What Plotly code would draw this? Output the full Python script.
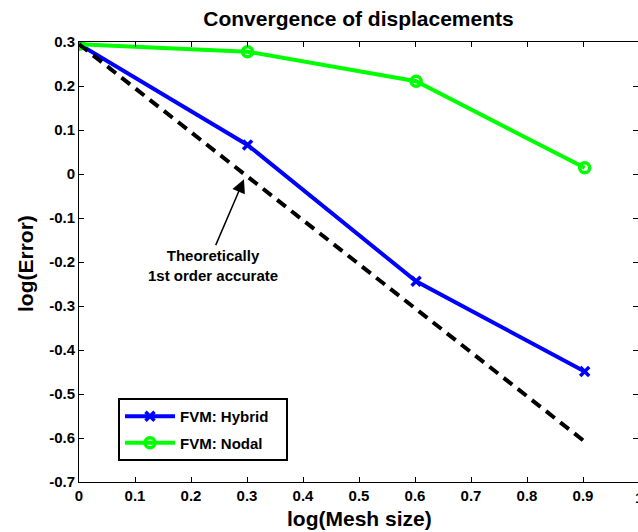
import plotly.graph_objects as go

# ---- data ----
mesh_log = [0.0, 0.301, 0.602, 0.903]
hybrid_err = [0.295, 0.066, -0.244, -0.449]
nodal_err = [0.295, 0.278, 0.211, 0.014]
theory_x = [0.0, 0.903]
theory_y = [0.295, -0.608]
series_names = ["FVM: Hybrid", "FVM: Nodal"]
x_ticks = [0, 0.1, 0.2, 0.3, 0.4, 0.5, 0.6, 0.7, 0.8, 0.9]
x_ticktext = ["0", "0.1", "0.2", "0.3", "0.4", "0.5", "0.6", "0.7", "0.8", "0.9"]
y_ticks = [0.3, 0.2, 0.1, 0.0, -0.1, -0.2, -0.3, -0.4, -0.5, -0.6, -0.7]
y_ticktext = ["0.3", "0.2", "0.1", "0", "-0.1", "-0.2", "-0.3", "-0.4", "-0.5", "-0.6", "-0.7"]

W, H = 638, 532
L, T, B = 79, 42, 50
PX_PER_X = 560.0
x_end = (W - L) / PX_PER_X  # axis right edge at window edge (x=1 just off-screen)

FONT = "Liberation Sans, Arial, sans-serif"
tickfont = dict(family=FONT, size=15, color="black", weight="bold")
PAD = "\u00a0\u00a0\u00a0"

fig = go.Figure()
fig.add_trace(go.Scatter(
    x=mesh_log, y=hybrid_err, name=series_names[0] + PAD, mode="lines+markers",
    line=dict(color="#0000FF", width=4),
    marker=dict(symbol="x-thin-open", size=9, color="#0000FF",
                line=dict(color="#0000FF", width=3.5)),
    legendgroup="a",
))
fig.add_trace(go.Scatter(
    x=mesh_log, y=nodal_err, name=series_names[1] + PAD, mode="lines+markers",
    line=dict(color="#00FF00", width=4),
    marker=dict(symbol="circle-open", size=10, color="#00FF00",
                line=dict(color="#00FF00", width=3.5)),
    legendgroup="b",
))
fig.add_trace(go.Scatter(
    x=theory_x, y=theory_y, mode="lines", showlegend=False, yaxis="y2",
    line=dict(color="black", width=4, dash="11px,7px"), hoverinfo="skip",
))

axis_common = dict(showgrid=False, zeroline=False, ticks="inside", ticklen=5,
                   tickcolor="black", tickwidth=1, linecolor="black", linewidth=1)

fig.update_layout(
    width=W, height=H,
    margin=dict(l=L, r=0, t=T, b=B, pad=0),
    paper_bgcolor="white", plot_bgcolor="white",
    xaxis=dict(range=[0, x_end], tickvals=x_ticks, ticktext=x_ticktext,
               showline=True, mirror="ticks", tickfont=tickfont, **axis_common),
    yaxis=dict(range=[-0.7, 0.3], tickvals=y_ticks, ticktext=y_ticktext,
               showline=True, mirror=False, tickfont=tickfont, **axis_common),
    yaxis2=dict(range=[-0.7, 0.3], tickvals=y_ticks, overlaying="y", side="right",
                showticklabels=False, showline=False, showgrid=False, zeroline=False,
                ticks="inside", ticklen=5, tickcolor="black", tickwidth=1),
    title=dict(text="Convergence of displacements", xref="paper", x=0.5,
               xanchor="center", yref="container", y=1 - 19 / H, yanchor="middle",
               font=dict(family=FONT, size=21, color="black", weight="bold")),
    legend=dict(x=(118 - L) / (W - L), y=(H - B - 398) / (H - B - T),
                xanchor="left", yanchor="top",
                bgcolor="white", bordercolor="black", borderwidth=2,
                font=dict(family=FONT, size=15, color="black", weight="bold"),
                itemwidth=50, traceorder="grouped", tracegroupgap=4),
    showlegend=True,
)

# tick label "1" at right edge (partially cut off, as in reference)
fig.add_annotation(text="1", xref="paper", yref="paper",
                   x=(639 - L) / (W - L), y=-(497 - (H - B)) / (H - B - T),
                   xanchor="center", yanchor="middle", showarrow=False,
                   font=tickfont)
# axis titles
fig.add_annotation(text="log(Mesh size)", xref="paper", yref="paper",
                   x=(359 - L) / (W - L), y=-(518 - (H - B)) / (H - B - T),
                   xanchor="center", yanchor="middle", showarrow=False,
                   font=dict(family=FONT, size=21, color="black", weight="bold"))
fig.add_annotation(text="log(Error)", xref="paper", yref="paper",
                   x=-(L - 25) / (W - L), y=(H - B - 264) / (H - B - T),
                   xanchor="center", yanchor="middle", textangle=-90, showarrow=False,
                   font=dict(family=FONT, size=21, color="black", weight="bold"))
# arrow annotation
fig.add_annotation(x=0.2946, y=-0.012, ax=0.243, ay=-0.165, axref="x", ayref="y",
                   xref="x", yref="y", text="", showarrow=True,
                   arrowhead=2, arrowsize=1.8, arrowwidth=1.5, arrowcolor="black")
fig.add_annotation(text="Theoretically<br>1st order accurate", xref="x", yref="y",
                   x=0.239, y=-0.209, xanchor="center", yanchor="middle",
                   showarrow=False, align="center",
                   font=dict(family=FONT, size=15, color="black", weight="bold"))

fig.write_html("out.html")
